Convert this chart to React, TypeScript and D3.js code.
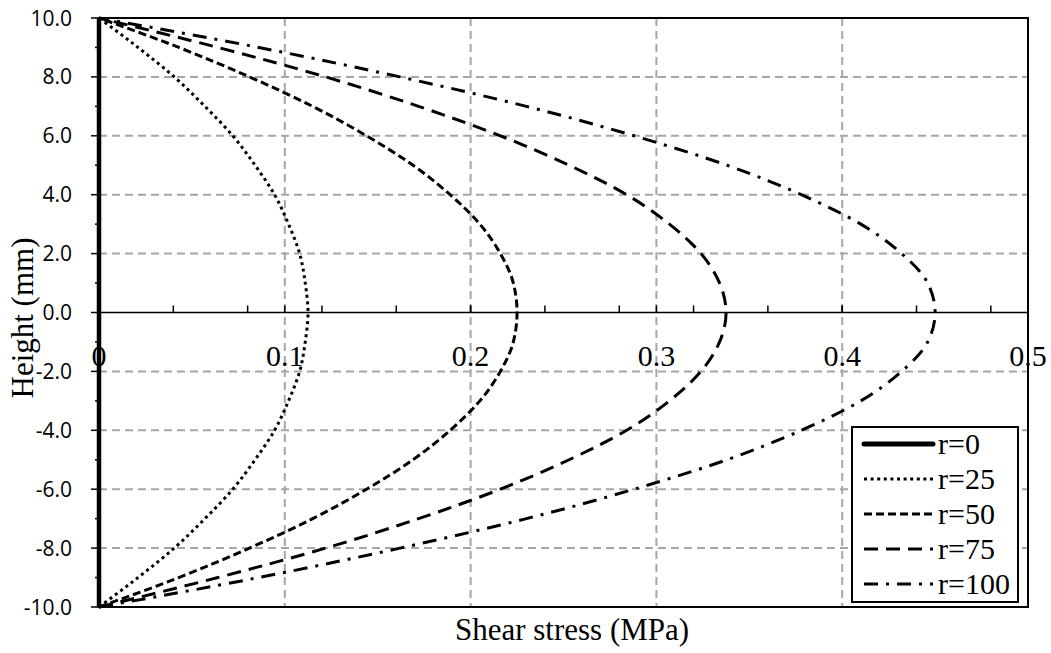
import React from 'react';
import * as d3 from 'd3';

// heights (mm) and shear stress (MPa)
const heights = [-10, -9, -8, -7, -6, -5, -4, -3, -2, -1, 0, 1, 2, 3, 4, 5, 6, 7, 8, 9, 10];
const r0 = [0, 0, 0, 0, 0, 0, 0, 0, 0, 0, 0, 0, 0, 0, 0, 0, 0, 0, 0, 0, 0];
const r25 = [0, 0.021, 0.0405, 0.057, 0.072, 0.084, 0.0945, 0.102, 0.108, 0.111, 0.1125, 0.111, 0.108, 0.102, 0.0945, 0.084, 0.072, 0.057, 0.0405, 0.021, 0];
const r50 = [0, 0.043, 0.081, 0.115, 0.144, 0.169, 0.189, 0.205, 0.216, 0.223, 0.225, 0.223, 0.216, 0.205, 0.189, 0.169, 0.144, 0.115, 0.081, 0.043, 0];
const r75 = [0, 0.064, 0.122, 0.172, 0.216, 0.253, 0.284, 0.307, 0.324, 0.334, 0.3375, 0.334, 0.324, 0.307, 0.284, 0.253, 0.216, 0.172, 0.122, 0.064, 0];
const r100 = [0, 0.086, 0.162, 0.23, 0.288, 0.338, 0.378, 0.41, 0.432, 0.446, 0.45, 0.446, 0.432, 0.41, 0.378, 0.338, 0.288, 0.23, 0.162, 0.086, 0];

const seriesNames = ['r=0', 'r=25', 'r=50', 'r=75', 'r=100'];
const seriesValues = [r0, r25, r50, r75, r100];

const yTickLabels = ['-10.0', '-8.0', '-6.0', '-4.0', '-2.0', '0.0', '2.0', '4.0', '6.0', '8.0', '10.0'];
const xTickLabels = ['0', '0.1', '0.2', '0.3', '0.4', '0.5'];

const styles = [
  { w: 4.5, dash: 'none' },
  { w: 3, dash: '3 3.6' },
  { w: 3, dash: '8 4' },
  { w: 3, dash: '14 8' },
  { w: 3, dash: '14 8 3 8' },
];

const width = 1051;
const height = 653;
const left = 99;
const right = 1028;
const plotTop = 18;
const plotBottom = 607;

const css = `
  .serif { font-family: 'Liberation Serif', 'Times New Roman', Tinos !important; }
  .sans { font-family: 'Open Sans' !important; }
`;

export default function App() {
  const x = d3.scaleLinear().domain([0, 0.5]).range([left, right]);
  const y = d3.scaleLinear().domain([-10, 10]).range([plotBottom, plotTop]);

  const line = d3
    .line<number>()
    .x((d) => x(d))
    .y((d, i) => y(heights[i]))
    .curve(d3.curveMonotoneY);

  const yMajor = yTickLabels.map((t) => +t);
  const yMinor = d3.range(-9, 10, 2);
  const xMajor = xTickLabels.map((t) => +t);
  const xMinor = d3.range(0.04, 0.5, 0.04);

  const lx = 852;
  const ly = 427;

  return (
    <svg
      width={width}
      height={height}
      style={{ position: 'absolute', left: 0, top: 0, fontFamily: "'Liberation Serif'" }}
    >
      <style>{css}</style>
      <rect width={width} height={height} fill="#fff" />
      {/* grid */}
      {yMajor
        .filter((v) => v !== 0 && v !== 10 && v !== -10)
        .map((v) => (
          <line key={'gy' + v} x1={left} x2={right} y1={y(v)} y2={y(v)} stroke="#a6a6a6" strokeWidth={2} strokeDasharray="8 5" />
        ))}
      {xMajor
        .filter((v) => v !== 0 && v !== 0.5)
        .map((v) => (
          <line key={'gx' + v} x1={x(v)} x2={x(v)} y1={plotTop} y2={plotBottom} stroke="#a6a6a6" strokeWidth={2} strokeDasharray="8 5" />
        ))}
      {/* zero axis */}
      <line x1={left} x2={right} y1={y(0)} y2={y(0)} stroke="#000" strokeWidth={1.5} />
      {xMinor.concat(xMajor.slice(1, 5)).map((v) => (
        <line key={'xt' + v} x1={x(v)} x2={x(v)} y1={y(0)} y2={y(0) - 7} stroke="#000" strokeWidth={1.5} />
      ))}
      {/* y ticks */}
      {yMajor.map((v) => (
        <line key={'ym' + v} x1={left - 8} x2={left} y1={y(v)} y2={y(v)} stroke="#000" strokeWidth={1.5} />
      ))}
      {yMinor.map((v) => (
        <line key={'yn' + v} x1={left - 4} x2={left} y1={y(v)} y2={y(v)} stroke="#000" strokeWidth={1.5} />
      ))}
      {/* frame */}
      <rect x={left} y={plotTop} width={right - left} height={plotBottom - plotTop} fill="none" stroke="#000" strokeWidth={2} />
      {/* series */}
      {seriesValues.map((vals, i) => (
        <path
          key={seriesNames[i]}
          d={line(vals) || ''}
          fill="none"
          stroke="#000"
          strokeWidth={styles[i].w}
          strokeDasharray={styles[i].dash}
        />
      ))}
      {/* y tick labels */}
      {yTickLabels.map((t) => (
        <text key={'yl' + t} className="sans" x={72} y={y(+t)} dy="0.36em" textAnchor="end" fontSize={21} fill="#000">
          {t}
        </text>
      ))}
      {/* x tick labels */}
      {xTickLabels.map((t) => (
        <text key={'xl' + t} className="serif" x={x(+t)} y={366} textAnchor="middle" fontSize={30} fill="#000">
          {t}
        </text>
      ))}
      {/* axis titles */}
      <text className="serif" x={572} y={640} textAnchor="middle" fontSize={31} fill="#000">
        Shear stress (MPa)
      </text>
      <text className="serif" transform="translate(33,318) rotate(-90)" textAnchor="middle" fontSize={31} fill="#000">
        Height (mm)
      </text>
      {/* legend */}
      <rect x={lx} y={ly} width={166} height={175} fill="#fff" stroke="#000" strokeWidth={2} />
      {seriesNames.map((n, i) => {
        const cy = ly + 17 + i * 35;
        return (
          <g key={'lg' + n}>
            <line
              x1={lx + 12}
              x2={lx + 81}
              y1={cy}
              y2={cy}
              stroke="#000"
              strokeWidth={i === 0 ? 5 : styles[i].w}
              strokeLinecap={i === 0 ? 'round' : 'butt'}
              strokeDasharray={styles[i].dash}
            />
            <text className="serif" x={lx + 86} y={cy + 10} fontSize={30} fill="#000">
              {n}
            </text>
          </g>
        );
      })}
    </svg>
  );
}
